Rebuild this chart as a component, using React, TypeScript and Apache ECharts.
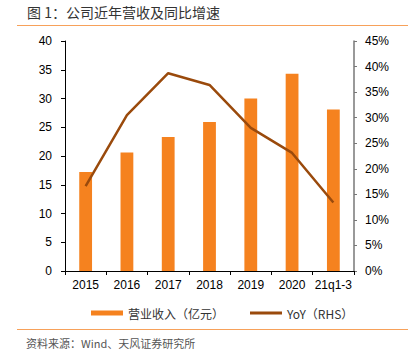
import React, { useEffect, useRef } from "react";
import * as echarts from "echarts";

const categories = ["2015", "2016", "2017", "2018", "2019", "2020", "21q1-3"];
const revenue = [17.2, 20.6, 23.3, 25.9, 30.0, 34.3, 28.1];
const yoy = [16.6, 30.5, 38.7, 36.4, 28.0, 23.1, 13.4];
const leftTicks = { min: 0, max: 40, interval: 5 };
const rightTicks = { min: 0, max: 45, interval: 5 };

const titleText = "图 1：公司近年营收及同比增速";
const sourceText = "资料来源：Wind、天风证券研究所";
const barName = "营业收入（亿元）";
const lineName = "YoY（RHS）";

const BAR_COLOR = "#F5821F";
const LINE_COLOR = "#9A4A0C";
const ACCENT = "#F7A15A";
const FONT = "'Liberation Sans', Arial, sans-serif";
const CJK = "'Noto Sans CJK SC', sans-serif";

export default function App() {
  const ref = useRef<HTMLDivElement>(null);
  useEffect(() => {
    if (!ref.current) return;
    const chart = echarts.init(ref.current, undefined, { renderer: "svg" });
    chart.setOption({
      animation: false,
      backgroundColor: "#ffffff",
      grid: { left: 65, right: 54, top: 41, bottom: 88, containLabel: false },
      graphic: [
        {
          type: "text",
          left: 27,
          top: 5,
          style: { text: titleText, fill: "#333", font: `14px ${CJK}` },
        },
        {
          type: "line",
          shape: { x1: 17, y1: 25.5, x2: 408, y2: 25.5 },
          style: { stroke: ACCENT, lineWidth: 1 },
        },
        {
          type: "line",
          shape: { x1: 17, y1: 329.5, x2: 408, y2: 329.5 },
          style: { stroke: ACCENT, lineWidth: 1 },
        },
        {
          type: "text",
          left: 26,
          top: 337,
          style: { text: sourceText, fill: "#555", font: `11px ${CJK}` },
        },
      ],
      legend: {
        left: 86,
        top: 302,
        itemGap: 26,
        itemWidth: 32,
        itemHeight: 5,
        textStyle: { fontFamily: CJK, fontSize: 12, color: "#333" },
        data: [
          { name: barName, icon: "rect" },
          { name: lineName, icon: "path://M0,0 L32,0 L32,3 L0,3 Z" },
        ],
      },
      xAxis: {
        type: "category",
        data: categories,
        axisLine: { lineStyle: { color: "#000", width: 1 } },
        axisTick: { show: true, length: 4, interval: 0, lineStyle: { color: "#000" } },
        axisLabel: { color: "#000", fontFamily: FONT, fontSize: 12, margin: 8, interval: 0 },
        splitLine: { show: false },
      },
      yAxis: [
        {
          type: "value",
          ...leftTicks,
          position: "left",
          axisLine: { show: true, lineStyle: { color: "#000", width: 1 } },
          axisTick: { show: true, length: 4, lineStyle: { color: "#000" } },
          axisLabel: { color: "#000", fontFamily: FONT, fontSize: 12, margin: 13 },
          splitLine: { show: false },
        },
        {
          type: "value",
          ...rightTicks,
          position: "right",
          axisLine: { show: true, lineStyle: { color: "#777", width: 1.5 } },
          axisTick: { show: true, length: 3, lineStyle: { color: "#777" } },
          axisLabel: {
            color: "#000",
            fontFamily: FONT,
            fontSize: 12,
            margin: 11,
            formatter: "{value}%",
          },
          splitLine: { show: false },
        },
      ],
      series: [
        {
          name: barName,
          type: "bar",
          data: revenue,
          barWidth: "31%",
          itemStyle: { color: BAR_COLOR },
          yAxisIndex: 0,
        },
        {
          name: lineName,
          type: "line",
          data: yoy,
          yAxisIndex: 1,
          symbol: "none",
          lineStyle: { color: LINE_COLOR, width: 2.5 },
          itemStyle: { color: LINE_COLOR },
        },
      ],
    });
    return () => chart.dispose();
  }, []);
  return (
    <div
      ref={ref}
      style={{ position: "fixed", left: 0, top: 0, width: 408, height: 359 }}
    />
  );
}
